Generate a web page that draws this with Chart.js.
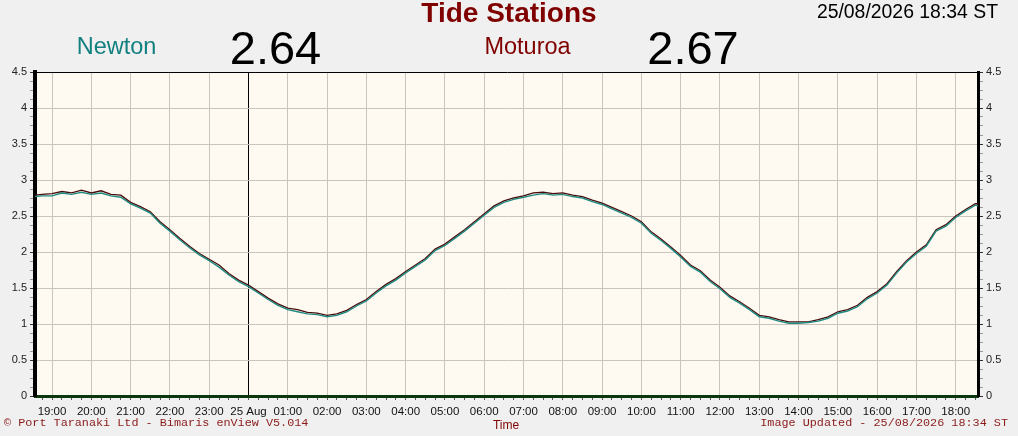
<!DOCTYPE html>
<html>
<head>
<meta charset="utf-8">
<script src="https://cdn.jsdelivr.net/npm/chart.js@4.4.1/dist/chart.umd.min.js"></script>
<style>
  html, body { margin: 0; padding: 0; background: #f0f0f0; }
  #wrap { position: relative; width: 1018px; height: 436px; overflow: hidden; font-family: "Liberation Sans", Arial, sans-serif; }
  #chart { position: absolute; left: 0; top: 0; }
  .t { position: absolute; line-height: 1; white-space: nowrap; }
  .c { transform: translateX(-50%); }
  .mono { font-family: "Liberation Mono", "Courier New", monospace; font-size: 11.8px; color: #8b1a1a; }
</style>
</head>
<body>
<div id="wrap">
  <canvas id="chart" width="1018" height="436"></canvas>
  <div class="t c" style="left:509px;top:-1px;font-size:28px;font-weight:bold;color:#800000">Tide Stations</div>
  <div class="t" style="right:20px;top:2px;font-size:19.4px;color:#000">25/08/2026 18:34 ST</div>
  <div class="t c" style="left:116.5px;top:35px;font-size:23.5px;color:#138080">Newton</div>
  <div class="t c" style="left:275.5px;top:24px;font-size:47px;color:#000">2.64</div>
  <div class="t c" style="left:527.5px;top:35px;font-size:23.5px;color:#800000">Moturoa</div>
  <div class="t c" style="left:693px;top:24px;font-size:47px;color:#000">2.67</div>
  <div class="t mono" style="left:4px;top:418px">© Port Taranaki Ltd - Bimaris enView V5.014</div>
  <div class="t c" style="left:506px;top:419px;font-size:12px;color:#800000">Time</div>
  <div class="t mono" style="right:10px;top:418px">Image Updated - 25/08/2026 18:34 ST</div>
</div>
<script>
// readings, 24 Aug 18:34 -> 25 Aug 18:34
const times = [
  '18:34','18:45',
  '19:00','19:15','19:30','19:45','20:00','20:15','20:30','20:45',
  '21:00','21:15','21:30','21:45','22:00','22:15','22:30','22:45',
  '23:00','23:15','23:30','23:45','00:00','00:15','00:30','00:45',
  '01:00','01:15','01:30','01:45','02:00','02:15','02:30','02:45',
  '03:00','03:15','03:30','03:45','04:00','04:15','04:30','04:45',
  '05:00','05:15','05:30','05:45','06:00','06:15','06:30','06:45',
  '07:00','07:15','07:30','07:45','08:00','08:15','08:30','08:45',
  '09:00','09:15','09:30','09:45','10:00','10:15','10:30','10:45',
  '11:00','11:15','11:30','11:45','12:00','12:15','12:30','12:45',
  '13:00','13:15','13:30','13:45','14:00','14:15','14:30','14:45',
  '15:00','15:15','15:30','15:45','16:00','16:15','16:30','16:45',
  '17:00','17:15','17:30','17:45','18:00','18:15','18:30','18:34'
];

const moturoa = [
  2.79, 2.80,
  2.81, 2.84, 2.82, 2.86, 2.82, 2.85, 2.80, 2.79,
  2.69, 2.63, 2.56, 2.42, 2.31, 2.19, 2.08, 1.98,
  1.90, 1.82, 1.70, 1.61, 1.54, 1.45, 1.36, 1.28,
  1.22, 1.20, 1.16, 1.15, 1.12, 1.14, 1.19, 1.27,
  1.34, 1.45, 1.55, 1.63, 1.73, 1.82, 1.91, 2.04,
  2.11, 2.21, 2.31, 2.42, 2.53, 2.64, 2.71, 2.75,
  2.78, 2.82, 2.83, 2.81, 2.82, 2.79, 2.77, 2.72,
  2.68, 2.62, 2.56, 2.50, 2.42, 2.28, 2.18, 2.07,
  1.95, 1.82, 1.74, 1.61, 1.51, 1.39, 1.31, 1.22,
  1.12, 1.10, 1.06, 1.03, 1.03, 1.03, 1.06, 1.10,
  1.17, 1.20, 1.26, 1.37, 1.45, 1.56, 1.73, 1.88,
  2.00, 2.10, 2.31, 2.38, 2.50, 2.59, 2.67, 2.67
];

const newton = [
  2.77, 2.78,
  2.78, 2.82, 2.80, 2.83, 2.80, 2.82, 2.78, 2.76,
  2.67, 2.61, 2.54, 2.40, 2.29, 2.17, 2.06, 1.96,
  1.88, 1.79, 1.68, 1.59, 1.52, 1.43, 1.34, 1.26,
  1.20, 1.17, 1.14, 1.13, 1.10, 1.12, 1.17, 1.25,
  1.32, 1.43, 1.53, 1.61, 1.71, 1.80, 1.89, 2.02,
  2.09, 2.19, 2.29, 2.40, 2.51, 2.62, 2.69, 2.73,
  2.76, 2.79, 2.81, 2.79, 2.80, 2.77, 2.75, 2.70,
  2.66, 2.60, 2.54, 2.48, 2.40, 2.26, 2.16, 2.05,
  1.93, 1.80, 1.72, 1.59, 1.49, 1.37, 1.29, 1.20,
  1.10, 1.08, 1.04, 1.01, 1.01, 1.02, 1.04, 1.08,
  1.15, 1.18, 1.24, 1.35, 1.43, 1.54, 1.71, 1.86,
  1.98, 2.08, 2.29, 2.36, 2.48, 2.57, 2.65, 2.64
];

const hourLabels = [
  '19:00','20:00','21:00','22:00','23:00','25 Aug','01:00','02:00',
  '03:00','04:00','05:00','06:00','07:00','08:00','09:00','10:00',
  '11:00','12:00','13:00','14:00','15:00','16:00','17:00','18:00'
];

const yLabels = [0, 0.5, 1, 1.5, 2, 2.5, 3, 3.5, 4, 4.5];

// clock time -> minutes from 24 Aug 00:00
function toMinutes(list) {
  let day = 0, prev = -1;
  return list.map(s => {
    const p = s.split(':');
    let m = +p[0] * 60 + +p[1];
    if (m < prev) day++;
    prev = m;
    return m + day * 1440;
  });
}
const mins = toMinutes(times);
const xMin = mins[0], xMax = mins[mins.length - 1];

const plotBg = {
  id: 'plotBg',
  beforeDraw(chart) {
    const { ctx, chartArea: a } = chart;
    ctx.save();
    ctx.fillStyle = '#fffaf1';
    ctx.fillRect(a.left, a.top, a.right - a.left, a.bottom - a.top);
    ctx.restore();
  }
};

const fontFam = '"Liberation Sans", Arial, sans-serif';
const isMajor = v => Math.abs(v * 2 - Math.round(v * 2)) < 1e-6;

function yAxis(pos) {
  return {
    type: 'linear',
    position: pos,
    min: 0,
    max: 4.5,
    afterBuildTicks: s => {
      const t = [];
      for (let i = 0; i <= 36; i++) t.push({ value: i * 0.125 });
      s.ticks = t;
    },
    afterFit: s => { s.width = pos === 'left' ? 35 : 40; },
    ticks: {
      autoSkip: false,
      padding: 3,
      color: '#222',
      font: { size: 11, family: fontFam },
      callback: v => (isMajor(v) && yLabels.indexOf(Math.round(v * 2) / 2) >= 0) ? String(Math.round(v * 2) / 2) : ''
    },
    grid: {
      drawOnChartArea: pos === 'left',
      color: c => {
        const v = c.tick ? c.tick.value : 0;
        if (Math.abs(v - 4.5) < 1e-6) return '#000';
        if (isMajor(v) && v > 0) return '#c9c5bd';
        return 'rgba(0,0,0,0)';
      },
      lineWidth: 1,
      tickColor: c => (c.tick && isMajor(c.tick.value)) ? '#333' : '#999',
      tickLength: 5
    },
    border: { color: '#000', width: pos === 'left' ? 4 : 3 }
  };
}

new Chart(document.getElementById('chart'), {
  type: 'line',
  data: {
    datasets: [
      {
        label: 'Newton',
        data: mins.map((m, i) => ({ x: m, y: newton[i] })),
        borderColor: '#1f8a82',
        borderWidth: 1.4,
        pointRadius: 0,
        tension: 0,
        order: 0
      },
      {
        label: 'Moturoa',
        data: mins.map((m, i) => ({ x: m, y: moturoa[i] })),
        borderColor: '#4a0c0c',
        borderWidth: 1.3,
        pointRadius: 0,
        tension: 0,
        order: 1
      }
    ]
  },
  options: {
    responsive: false,
    animation: false,
    layout: { padding: { top: 72, left: 0, right: 0, bottom: 0 } },
    plugins: { legend: { display: false }, tooltip: { enabled: false } },
    scales: {
      x: {
        type: 'linear',
        min: xMin,
        max: xMax,
        afterBuildTicks: s => {
          const t = [];
          for (let m = Math.ceil(xMin / 15) * 15; m <= xMax; m += 15) t.push({ value: m });
          s.ticks = t;
        },
        afterFit: s => { s.height = 40; },
        ticks: {
          autoSkip: false,
          maxRotation: 0,
          padding: 5,
          color: '#111',
          font: { size: 11.5, family: fontFam },
          callback: v => v % 60 === 0 ? hourLabels[(v - 1140) / 60] : ''
        },
        grid: {
          color: c => {
            const v = c.tick ? c.tick.value : 0;
            if (v === 1440) return '#000';
            if (v % 60 === 0) return '#c9c5bd';
            return 'rgba(0,0,0,0)';
          },
          lineWidth: 1,
          tickColor: '#555',
          tickLength: 4
        },
        border: { color: '#0c360c', width: 3 }
      },
      y: yAxis('left'),
      y2: yAxis('right')
    }
  },
  plugins: [plotBg]
});
</script>
</body>
</html>
